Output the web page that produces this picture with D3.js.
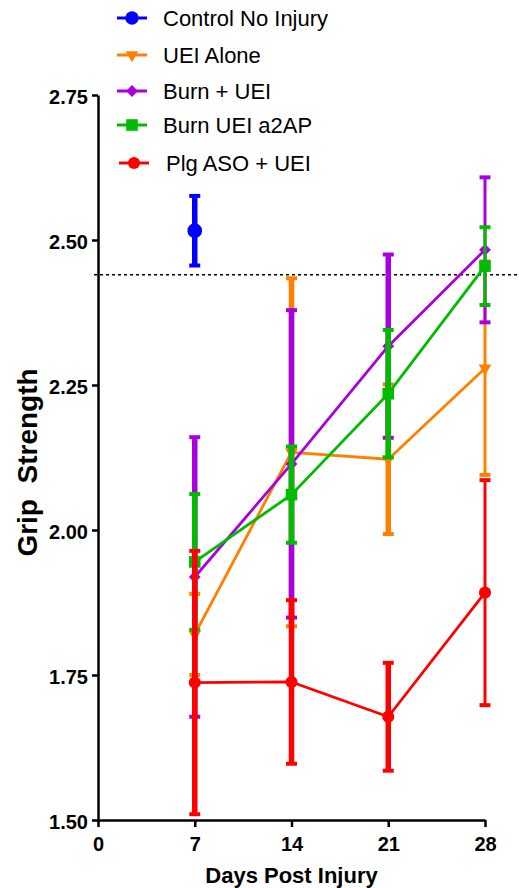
<!DOCTYPE html>
<html>
<head>
<meta charset="utf-8">
<script src="https://cdn.jsdelivr.net/npm/d3@7"></script>
<style>
  html, body { margin: 0; padding: 0; background: #fff; }
  svg { display: block; }
  text { font-family: Arial, "Liberation Sans", sans-serif; }
</style>
</head>
<body>
<svg id="chart" width="519" height="888"></svg>
<script>
// ---- data ----
const days = [7, 14, 21, 28];
const xTicks = [0, 7, 14, 21, 28];
const yTicks = [1.50, 1.75, 2.00, 2.25, 2.50, 2.75];
const seriesNames = ["Control No Injury", "UEI Alone", "Burn + UEI", "Burn UEI a2AP", "Plg ASO + UEI"];
const seriesColors = ["#0000FF", "#FF8000", "#A800E0", "#00BB00", "#FF0000"];
const controlDays = [7];
const controlMean = [2.516];
const controlErr = [0.060];
const ueiMean = [1.820, 2.134, 2.122, 2.279];
const ueiErr = [0.070, 0.300, 0.129, 0.184];
const burnMean = [1.919, 2.114, 2.317, 2.483];
const burnErr = [0.241, 0.265, 0.158, 0.125];
const a2apMean = [1.945, 2.061, 2.235, 2.455];
const a2apErr = [0.117, 0.083, 0.110, 0.067];
const plgMean = [1.737, 1.738, 1.678, 1.892];
const plgErr = [0.227, 0.141, 0.093, 0.194];
const referenceLine = [2.44];
const yTitle = "Grip  Strength";
const xTitle = "Days Post Injury";

// ---- build series ----
const series = [
  { name: seriesNames[0], color: seriesColors[0], symbol: d3.symbolCircle, size: 170, x: controlDays, m: controlMean, e: controlErr },
  { name: seriesNames[1], color: seriesColors[1], symbol: d3.symbolTriangle, size: 70, rot: 180, x: days, m: ueiMean, e: ueiErr },
  { name: seriesNames[2], color: seriesColors[2], symbol: d3.symbolDiamond2, size: 90, x: days, m: burnMean, e: burnErr },
  { name: seriesNames[3], color: seriesColors[3], symbol: d3.symbolSquare, size: 135, x: days, m: a2apMean, e: a2apErr },
  { name: seriesNames[4], color: seriesColors[4], symbol: d3.symbolCircle, size: 115, x: days, m: plgMean, e: plgErr }
];

const svg = d3.select("#chart");
const x = d3.scaleLinear().domain([0, 28]).range([98, 485]);
const y = d3.scaleLinear().domain([1.5, 2.75]).range([820, 95]);

// reference dotted line
svg.selectAll("line.ref").data(referenceLine).enter().append("line")
  .attr("class", "ref")
  .attr("x1", x(0) - 4).attr("x2", 519)
  .attr("y1", d => y(d)).attr("y2", d => y(d))
  .attr("stroke", "#000").attr("stroke-width", 1.5)
  .attr("stroke-dasharray", "3,3");

// axes
const yAxis = d3.axisLeft(y).tickValues(yTicks).tickFormat(d3.format(".2f"))
  .tickSize(6).tickSizeOuter(0).tickPadding(4);
const xAxis = d3.axisBottom(x).tickValues(xTicks).tickFormat(d3.format("d"))
  .tickSize(7).tickSizeOuter(0).tickPadding(10);

const gy = svg.append("g").attr("transform", `translate(${x(0)},0)`).call(yAxis);
const gx = svg.append("g").attr("transform", `translate(0,${y(1.5)})`).call(xAxis);
[gy, gx].forEach(g => {
  g.select(".domain").attr("stroke", "#000").attr("stroke-width", 2.5);
  g.selectAll(".tick line").attr("stroke", "#000").attr("stroke-width", 2.5);
  g.selectAll(".tick text").attr("fill", "#000")
    .style("font-family", 'Arial, "Liberation Sans", sans-serif')
    .style("font-size", "20px").style("font-weight", "bold");
});
gy.selectAll(".tick text").attr("dy", "0.42em");

// titles
svg.append("text")
  .attr("transform", `translate(37,${(y(1.5) + y(2.75)) / 2 + 5}) rotate(-90)`)
  .attr("text-anchor", "middle")
  .style("font-size", "28px").style("font-weight", "bold")
  .style("white-space", "pre")
  .attr("xml:space", "preserve")
  .text(yTitle);

svg.append("text")
  .attr("x", (x(0) + x(28)) / 2).attr("y", 883)
  .attr("text-anchor", "middle")
  .style("font-size", "22px").style("font-weight", "bold")
  .text(xTitle);

// series
const line = d3.line().x(d => x(d.day)).y(d => y(d.mean));
series.forEach(s => {
  const pts = s.x.map((d, i) => ({ day: d, mean: s.m[i], err: s.e[i] }));
  const g = svg.append("g");
  if (pts.length > 1) {
    g.append("path").datum(pts).attr("d", line)
      .attr("fill", "none").attr("stroke", s.color).attr("stroke-width", 2.8)
      .attr("stroke-linejoin", "round");
  }
  pts.forEach(p => {
    const sw = p.day === 28 ? 3 : 5.5;
    g.append("line")
      .attr("x1", x(p.day)).attr("x2", x(p.day))
      .attr("y1", y(p.mean + p.err)).attr("y2", y(p.mean - p.err))
      .attr("stroke", s.color).attr("stroke-width", sw);
    [p.mean + p.err, p.mean - p.err].forEach(v => {
      g.append("line")
        .attr("x1", x(p.day) - 5.5).attr("x2", x(p.day) + 5.5)
        .attr("y1", y(v)).attr("y2", y(v))
        .attr("stroke", s.color).attr("stroke-width", 4);
    });
  });
  g.selectAll("path.mk").data(pts).enter().append("path")
    .attr("class", "mk")
    .attr("d", d3.symbol().type(s.symbol).size(s.size))
    .attr("transform", d => `translate(${x(d.day)},${y(d.mean)}) rotate(${s.rot || 0})`)
    .attr("fill", s.color);
});

// legend
const legendRows = [18, 55, 91, 125, 163];
const leg = svg.append("g");
series.forEach((s, i) => {
  const off = i === 4 ? 2 : 0;
  const cy = legendRows[i];
  leg.append("line")
    .attr("x1", 117 + off).attr("x2", 147 + off)
    .attr("y1", cy).attr("y2", cy)
    .attr("stroke", s.color).attr("stroke-width", 3);
  leg.append("path")
    .attr("d", d3.symbol().type(s.symbol).size(i === 0 ? 140 : s.size))
    .attr("transform", `translate(${132 + off},${cy}) rotate(${s.rot || 0})`)
    .attr("fill", s.color);
  leg.append("text")
    .attr("x", 163 + (i === 4 ? 3 : 0)).attr("y", cy + 8)
    .style("font-size", "22px")
    .attr("fill", "#000")
    .text(s.name);
});
</script>
</body>
</html>
